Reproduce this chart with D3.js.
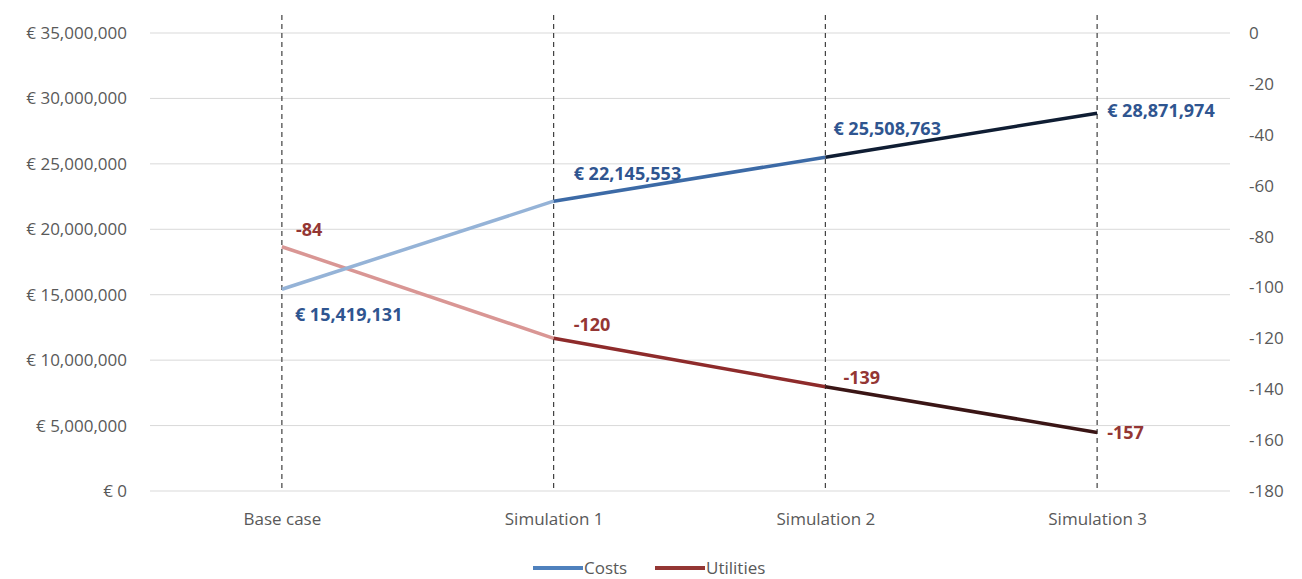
<!DOCTYPE html>
<html>
<head>
<meta charset="utf-8">
<script src="https://cdn.jsdelivr.net/npm/d3@7"></script>
<style>
  body { margin: 0; background: #fff; }
  svg { display: block; }
</style>
</head>
<body>
<svg id="chart" width="1302" height="579"></svg>
<script>
// --- Data ---
const categories = ["Base case", "Simulation 1", "Simulation 2", "Simulation 3"];
const costs = [15419131, 22145553, 25508763, 28871974];
const utilities = [-84, -120, -139, -157];
const leftTicks = [0, 5000000, 10000000, 15000000, 20000000, 25000000, 30000000, 35000000];
const rightTicks = [0, -20, -40, -60, -80, -100, -120, -140, -160, -180];

const svg = d3.select("#chart");
const FONT = "'Open Sans', sans-serif";
const width = 1302, height = 579;
const plot = { left: 150, right: 1230, top: 33, bottom: 491 };

const x = d3.scalePoint().domain(categories).range([146, 1233]).padding(0.5);
const yL = d3.scaleLinear().domain([0, 35000000]).range([plot.bottom, plot.top]);
const yR = d3.scaleLinear().domain([-180, 0]).range([plot.bottom, plot.top]);

const styles = {
  grid: "#d9d9d9",
  tick: "#595959",
  dash: "#404040",
  costSeg: ["#95b3d7", "#3c6aa6", "#0f1d33"],
  utilSeg: ["#d99694", "#8e2b2b", "#3a1515"],
  costLabel: "#2f5590",
  utilLabel: "#943634",
  legendCost: "#4f81bd",
  legendUtil: "#943634"
};

const fmtEuro = v => "€ " + d3.format(",")(v);
const fmtPlain = v => String(v);

// gridlines
svg.append("g").selectAll("line").data(leftTicks).join("line")
  .attr("x1", plot.left).attr("x2", plot.right)
  .attr("y1", d => yL(d)).attr("y2", d => yL(d))
  .attr("stroke", styles.grid).attr("stroke-width", 1);

function styleAxis(g) {
  g.select(".domain").remove();
  g.attr("font-family", FONT).attr("font-size", 17);
  g.selectAll("text").attr("fill", styles.tick);
}

// left axis
svg.append("g").attr("transform", `translate(${plot.left - 20},0)`)
  .call(d3.axisLeft(yL).tickValues(leftTicks).tickSize(0).tickFormat(fmtEuro))
  .call(styleAxis);

// right axis
svg.append("g").attr("transform", `translate(${plot.right + 16},0)`)
  .call(d3.axisRight(yR).tickValues(rightTicks).tickSize(0).tickFormat(fmtPlain))
  .call(styleAxis);

// bottom category labels
svg.append("g").attr("transform", `translate(0,${plot.bottom + 19})`)
  .call(d3.axisBottom(x).tickSize(0))
  .call(styleAxis);

// dashed vertical lines
svg.append("g").selectAll("line").data(categories).join("line")
  .attr("x1", d => x(d)).attr("x2", d => x(d))
  .attr("y1", 15).attr("y2", plot.bottom)
  .attr("stroke", styles.dash).attr("stroke-width", 1.2)
  .attr("stroke-dasharray", "5,4");

// line segments, coloured per segment like the original
function drawSegments(vals, yScale, colors) {
  const pts = vals.map((v, i) => [x(categories[i]), yScale(v)]);
  svg.append("g").selectAll("line").data(d3.pairs(pts)).join("line")
    .attr("x1", d => d[0][0]).attr("y1", d => d[0][1])
    .attr("x2", d => d[1][0]).attr("y2", d => d[1][1])
    .attr("stroke", (d, i) => colors[i])
    .attr("stroke-width", 3.5);
}
drawSegments(utilities, yR, styles.utilSeg);
drawSegments(costs, yL, styles.costSeg);

// data labels
const costOffsets = [[13, 25], [20, -28], [8, -28], [10, -2]];
const utilOffsets = [[14, -17], [20, -14], [18, -9], [10, 0]];

svg.append("g").attr("font-family", FONT).selectAll("text").data(costs).join("text")
  .attr("x", (d, i) => x(categories[i]) + costOffsets[i][0])
  .attr("y", (d, i) => yL(d) + costOffsets[i][1])
  .attr("dy", "0.35em")
  .attr("fill", styles.costLabel)
  .style("font-size", "18px").style("font-weight", "bold")
  .text(fmtEuro);

svg.append("g").attr("font-family", FONT).selectAll("text").data(utilities).join("text")
  .attr("x", (d, i) => x(categories[i]) + utilOffsets[i][0])
  .attr("y", (d, i) => yR(d) + utilOffsets[i][1])
  .attr("dy", "0.35em")
  .attr("fill", styles.utilLabel)
  .style("font-size", "18px").style("font-weight", "bold")
  .text(fmtPlain);

// legend
const legend = svg.append("g").attr("transform", "translate(0,568)").attr("font-family", FONT);
const legendItems = [
  { name: "Costs", color: styles.legendCost, x: 533 },
  { name: "Utilities", color: styles.legendUtil, x: 655 }
];
legendItems.forEach(it => {
  legend.append("line").attr("x1", it.x).attr("x2", it.x + 50).attr("y1", 0).attr("y2", 0)
    .attr("stroke", it.color).attr("stroke-width", 4);
  legend.append("text").attr("x", it.x + 51).attr("y", 0).attr("dy", "0.35em")
    .attr("fill", styles.tick).style("font-size", "17px").text(it.name);
});
</script>
</body>
</html>
